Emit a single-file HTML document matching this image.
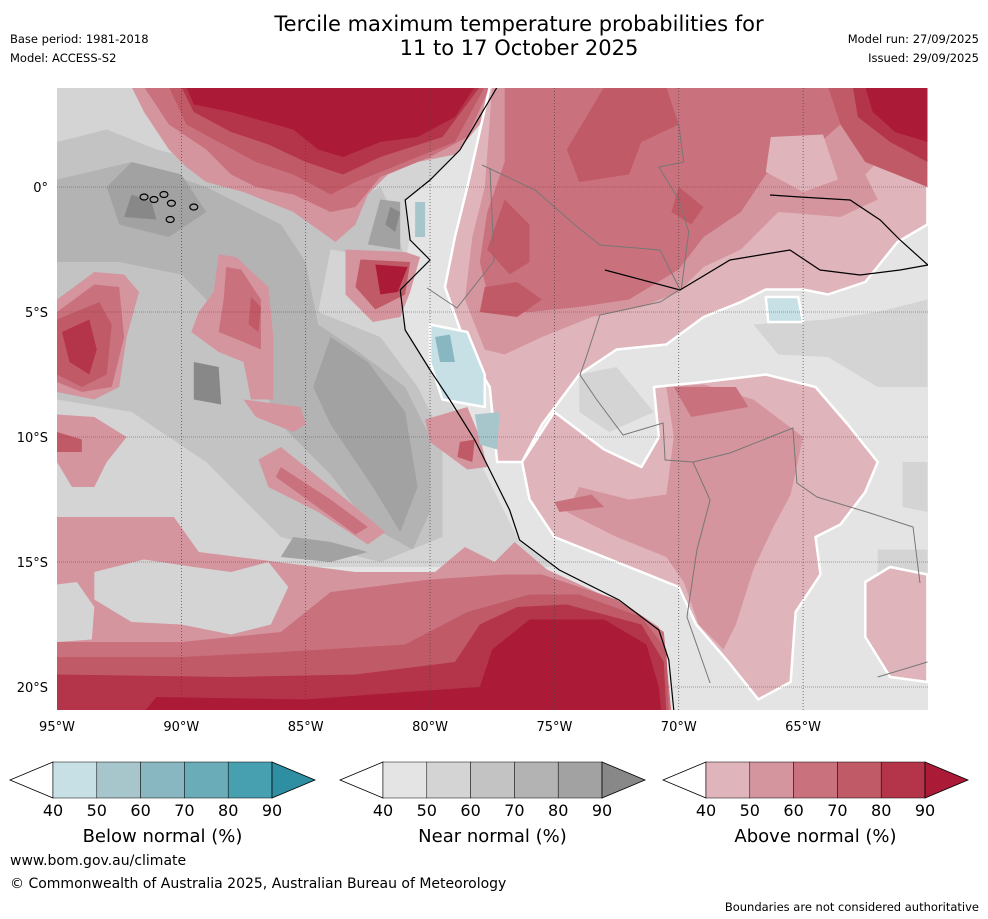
<!DOCTYPE html>
<html><head><meta charset="utf-8">
<style>
html,body{margin:0;padding:0;background:#fff;}
body{width:988px;height:919px;position:relative;overflow:hidden;font-family:"DejaVu Sans","Liberation Sans",sans-serif;}
svg{position:absolute;left:0;top:0;font-family:"DejaVu Sans","Liberation Sans",sans-serif;}
</style></head>
<body>
<svg id="chart" width="988" height="919">
  <text x="519" y="31" font-size="21" text-anchor="middle">Tercile maximum temperature probabilities for</text>
  <text x="519" y="55" font-size="21" text-anchor="middle">11 to 17 October 2025</text>
  <text x="10" y="43" font-size="11.5">Base period: 1981-2018</text>
  <text x="10" y="62" font-size="11.5">Model: ACCESS-S2</text>
  <text x="979" y="43" font-size="11.5" text-anchor="end">Model run: 27/09/2025</text>
  <text x="979" y="62" font-size="11.5" text-anchor="end">Issued: 29/09/2025</text>
  <defs><clipPath id="mapclip"><rect x="57" y="88" width="871" height="622"/></clipPath></defs>
  <g id="map" clip-path="url(#mapclip)"></g>
  <g id="axes"></g>
  <g id="cbars"></g>
  <text x="10" y="865" font-size="14">www.bom.gov.au/climate</text>
  <text x="10" y="888" font-size="14">© Commonwealth of Australia 2025, Australian Bureau of Meteorology</text>
  <text x="979" y="911" font-size="11.5" text-anchor="end">Boundaries are not considered authoritative</text>
</svg>
<script>
const lonTicks=[-95,-90,-85,-80,-75,-70,-65];
const lonLabels=["95°W","90°W","85°W","80°W","75°W","70°W","65°W"];
const latTicks=[0,-5,-10,-15,-20];
const latLabels=["0°","5°S","10°S","15°S","20°S"];
const cbTicks=[40,50,60,70,80,90];
const belowColors=["#c6e0e5","#a6c6cc","#89b7c1","#6aacb8","#47a0b0","#2e8fa3"];
const nearColors=["#e4e4e4","#d4d4d4","#c3c3c3","#b3b3b3","#a2a2a2","#888888"];
const aboveColors=["#e0b4bb","#d5959e","#c9727e","#c15a67","#b43549","#ab1a36"];
const cbTitles=["Below normal (%)","Near normal (%)","Above normal (%)"];
const regions=[
{c:"N",l:1,p:[[-95,4],[-77.3,4],[-78.8,1.5],[-80,0.3],[-81,-0.5],[-80.8,-2],[-81.2,-4],[-81,-5.7],[-80,-7.3],[-79,-9],[-78,-11],[-77,-13],[-76.4,-14.2],[-75,-15.2],[-95,-15.2]]},
{c:"N",l:2,p:[[-95,1.8],[-93,2.3],[-91,1.5],[-89,1],[-86.5,0],[-84,-1],[-83,-0.5],[-82,0],[-81.5,-1],[-81,-3],[-84,-2.5],[-84.5,-5],[-82,-6],[-80.5,-8],[-79.5,-10],[-79.5,-14],[-82,-15],[-86,-14],[-89,-11],[-92,-9],[-95,-8.5]]},
{c:"N",l:3,p:[[-95,0.3],[-92,1],[-89,0],[-86,-1.5],[-85,-3],[-84.5,-5.5],[-83,-6.5],[-81,-8],[-80,-10],[-80,-13],[-80.7,-14.5],[-82.5,-13.5],[-84,-11.5],[-86,-9.5],[-87,-7.5],[-88.5,-5],[-90,-3.5],[-92.5,-3],[-95,-3]]},
{c:"N",l:4,p:[[-92,1],[-90,0.5],[-89,-1],[-90.5,-2],[-92.5,-1.5],[-93,0]]},
{c:"N",l:4,p:[[-84,-6],[-82.5,-7],[-81,-9],[-80.5,-12],[-81.2,-13.8],[-82.3,-12],[-84,-9.5],[-84.7,-8]]},
{c:"N",l:4,p:[[-85.5,-14],[-84,-14.2],[-82.5,-14.6],[-84,-15],[-86,-14.8]]},
{c:"N",l:4,p:[[-82,-0.5],[-81.2,-0.6],[-81.2,-2.5],[-82.5,-2.3]]},
{c:"N",l:5,p:[[-92,-0.3],[-91.2,-0.6],[-91,-1.3],[-92.3,-1.2]]},
{c:"N",l:5,p:[[-89.5,-7],[-88.5,-7.2],[-88.4,-8.7],[-89.5,-8.5]]},
{c:"N",l:5,p:[[-81.6,-0.8],[-81.2,-1],[-81.4,-1.8],[-81.8,-1.5]]},
{c:"A",l:1,p:[[-95,4],[-77.3,4],[-78,2.5],[-79,1.3],[-80.5,1],[-81.7,0.5],[-82.5,-0.3],[-83,-1.5],[-83.8,-2.2],[-85.5,-1],[-87.5,-0.2],[-89,0.2],[-89.8,0.8],[-90.5,1.5],[-91.5,3],[-92,4]]},
{c:"A",l:2,p:[[-91.5,4],[-77.6,4],[-78.5,2],[-80,1.2],[-82,0.4],[-83,-0.8],[-84,-1],[-85.5,-0.3],[-87,0],[-88,0.5],[-89,1.5],[-90.5,2.5]]},
{c:"A",l:3,p:[[-90.5,4],[-77.8,4],[-79,1.8],[-81.5,0.8],[-83,0.2],[-84,-0.3],[-85.5,0.5],[-87,1],[-88.5,1.8],[-89.8,2.5]]},
{c:"A",l:4,p:[[-90,4],[-78,4],[-79.5,2],[-82,1.2],[-83.5,0.5],[-85,1],[-86.5,1.7],[-88,2.2],[-89.5,3]]},
{c:"A",l:5,p:[[-89.8,4],[-78.2,4],[-79,2.8],[-80.5,2],[-82,1.8],[-83.5,1.2],[-84.5,1.5],[-85.5,2.3],[-88,3],[-89.5,3.3]]},
{c:"A",l:1,p:[[-95,-4.5],[-93.5,-3.4],[-92.3,-3.5],[-91.7,-4.2],[-92.2,-6],[-92.5,-8],[-93.5,-8.5],[-95,-8.2]]},
{c:"A",l:2,p:[[-95,-5],[-93.5,-3.9],[-92.5,-4],[-92.3,-6],[-92.8,-8],[-94,-8.2],[-95,-7.8]]},
{c:"A",l:3,p:[[-95,-5.3],[-93.3,-4.6],[-92.8,-5.5],[-93,-7.5],[-94,-8],[-95,-7.5]]},
{c:"A",l:4,p:[[-94.8,-5.8],[-93.7,-5.3],[-93.4,-6.5],[-93.7,-7.5],[-94.5,-7]]},
{c:"A",l:1,p:[[-88.5,-2.7],[-87.8,-2.8],[-86.5,-4],[-86.3,-6],[-86.3,-8.5],[-87.2,-8.5],[-87.5,-7],[-88.5,-6.6],[-89.6,-5.8],[-89.3,-5],[-88.7,-4.2]]},
{c:"A",l:2,p:[[-88.2,-3.2],[-87.6,-3.3],[-86.8,-4.5],[-86.8,-6.5],[-87.5,-6.2],[-88.5,-5.8],[-88.3,-4.5]]},
{c:"A",l:3,p:[[-87.2,-4.4],[-86.8,-4.8],[-86.9,-5.8],[-87.3,-5.5]]},
{c:"A",l:1,p:[[-95,-9.1],[-93.5,-9.2],[-92.2,-10],[-93,-11],[-93.5,-12],[-94.4,-12],[-95,-11]]},
{c:"A",l:3,p:[[-95,-9.8],[-94,-10.1],[-94,-10.6],[-95,-10.6]]},
{c:"A",l:1,p:[[-87.5,-8.5],[-85.2,-8.8],[-85,-9.5],[-85.5,-9.8],[-87,-9.2]]},
{c:"A",l:1,p:[[-86.9,-10.9],[-86,-10.4],[-85.5,-10.8],[-83,-12.8],[-81.8,-13.8],[-82.5,-14.3],[-84.5,-13],[-86.5,-12]]},
{c:"A",l:2,p:[[-86,-11.2],[-84,-12.5],[-82.5,-13.6],[-83,-13.9],[-86.2,-11.6]]},
{c:"A",l:1,p:[[-95,-13.2],[-90.3,-13.2],[-89.3,-14.6],[-83,-15.4],[-79.8,-15.4],[-78.6,-14.4],[-77.4,-15],[-76.6,-14.2],[-75.3,-15.3],[-72,-16.8],[-70.8,-17.6],[-70.3,-21],[-95,-21]]},
{c:"N",l:1,p:[[-93.5,-15.4],[-91.5,-14.9],[-89.5,-15.2],[-88,-15.4],[-86.5,-15],[-85.7,-16],[-86.4,-17.5],[-88,-17.9],[-90,-17.5],[-92,-17.4],[-93.5,-16.5]]},
{c:"N",l:1,p:[[-95,-15.9],[-94.2,-15.8],[-93.5,-16.8],[-93.6,-18.1],[-95,-18.2]]},
{c:"A",l:2,p:[[-95,-18.2],[-90,-18.2],[-86,-17.8],[-84,-16.2],[-80,-15.7],[-77,-15.5],[-75.5,-15.5],[-72.5,-16.5],[-70.6,-17.8],[-70.3,-21],[-95,-21]]},
{c:"A",l:3,p:[[-95,-18.8],[-90,-18.8],[-86,-18.6],[-81,-18.3],[-78.5,-17],[-76,-16.3],[-74,-16.3],[-71.5,-17.2],[-70.5,-18.5],[-70.4,-21],[-95,-21]]},
{c:"A",l:4,p:[[-95,-19.5],[-88,-19.6],[-83,-19.5],[-79,-19],[-78,-17.5],[-76.5,-16.8],[-74.5,-16.7],[-71.5,-17.5],[-70.6,-19],[-70.5,-21],[-95,-21]]},
{c:"A",l:5,p:[[-91,-20.4],[-85,-20.5],[-81,-20.2],[-78,-20],[-77.5,-18.5],[-76,-17.3],[-74.5,-17.3],[-73,-17.3],[-71.3,-18.3],[-70.8,-20],[-70.7,-21],[-91.5,-21]]},
{c:"A",l:1,p:[[-83.4,-2.5],[-81,-2.6],[-80.4,-2.8],[-80.8,-4.2],[-81.2,-5.2],[-82.3,-5.4],[-83.4,-4.3]]},
{c:"A",l:3,p:[[-82.8,-2.9],[-80.8,-3],[-81,-4.3],[-82.2,-4.9],[-83,-4]]},
{c:"A",l:5,p:[[-82.2,-3.1],[-80.9,-3.2],[-81.3,-4.2],[-82,-4.3]]},
{c:"A",l:1,p:[[-80.2,-9.3],[-78.5,-8.8],[-78,-10],[-77.7,-11.2],[-78.5,-11.3],[-80,-10.2]]},
{c:"A",l:3,p:[[-78.8,-10.2],[-78.2,-10.1],[-78.3,-11],[-78.9,-10.8]]},
{c:"A",l:0,p:[[-77.6,4],[-60,4],[-60,-1.5],[-61.2,-2.2],[-62.5,-3.8],[-64,-4.3],[-65,-4.1],[-66.5,-4.1],[-67.5,-4.6],[-69,-5.2],[-70.5,-6.3],[-72.5,-6.5],[-74,-7.5],[-75.5,-9.5],[-76.3,-11],[-77.3,-11],[-77.6,-8],[-78.5,-6.5],[-79.4,-4],[-79,-2],[-78.5,0]]},
{c:"A",l:1,p:[[-77.5,4],[-62,4],[-61,2],[-62.5,0.5],[-62,-0.5],[-63.5,-1.2],[-66,-1],[-67.5,-2.5],[-69,-3.2],[-70,-4.2],[-71.5,-4.8],[-73.5,-5.2],[-75.5,-6],[-77,-6.7],[-77.8,-6.5],[-78.6,-4.5],[-78.3,-2],[-77.8,0]]},
{c:"A",l:2,p:[[-77,4],[-64,4],[-63.5,2.5],[-65,1.2],[-66.5,0.5],[-67.5,-1],[-69,-2],[-70,-3.3],[-72,-4.5],[-74,-4.8],[-76,-5],[-77.5,-5],[-78,-3],[-77.7,-1],[-77,1]]},
{c:"A",l:3,p:[[-73,4],[-70.5,4],[-70,2.5],[-71.5,1.8],[-72,0.5],[-74,0.2],[-74.5,1.5]]},
{c:"A",l:3,p:[[-77,-0.5],[-76,-1.5],[-76,-3],[-76.8,-3.5],[-77.7,-2.5]]},
{c:"A",l:3,p:[[-77.8,-4],[-76.5,-3.8],[-75.5,-4.5],[-76.5,-5.2],[-78,-5]]},
{c:"A",l:3,p:[[-70,0],[-69,-0.8],[-69.5,-1.5],[-70.3,-1]]},
{c:"A",l:3,p:[[-64,4],[-60,4],[-60,0],[-61,0.4],[-62.5,1],[-63.5,2.5]]},
{c:"A",l:4,p:[[-63,4],[-60,4],[-60,1],[-61.5,1.8],[-62.8,2.8]]},
{c:"A",l:5,p:[[-62.5,4],[-60,4],[-60,1.8],[-61.3,2.2],[-62.2,3]]},
{c:"N",l:1,p:[[-67,-5.5],[-64,-5.3],[-62,-5],[-60,-4.5],[-60,-8],[-62,-8],[-64,-6.8],[-66,-6.7]]},
{c:"N",l:1,p:[[-74,-7.5],[-72.5,-7.2],[-71,-9],[-72.8,-9.8],[-74,-9]]},
{c:"N",l:1,p:[[-61,-11],[-60,-11],[-60,-13],[-61,-12.8]]},
{c:"N",l:1,p:[[-62,-14.5],[-60,-14.5],[-60,-16],[-62,-16]]},
{c:"A",l:0,p:[[-71,-8],[-69,-7.8],[-66.5,-7.5],[-64.5,-8],[-63.2,-9.5],[-62,-11],[-62.5,-12.2],[-63.5,-13.5],[-64.5,-14],[-64.3,-15.5],[-65.3,-17],[-65.5,-19.8],[-66.8,-20.5],[-68,-19],[-69.3,-17.5],[-70,-16],[-72.5,-15],[-75,-14],[-76,-12.5],[-76.3,-11],[-75,-9],[-73,-10.5],[-71.5,-11.2],[-70.8,-10]]},
{c:"A",l:1,p:[[-70.5,-8],[-69,-7.9],[-67,-8.5],[-65,-10],[-65.5,-12.3],[-66.2,-13.6],[-67,-15.3],[-67.7,-17.5],[-68.2,-18.5],[-69.2,-17.5],[-69.8,-15.8],[-70.5,-14.8],[-72.5,-14],[-74.5,-13],[-74,-12],[-72,-12.5],[-70.5,-12.3],[-70.2,-10]]},
{c:"A",l:2,p:[[-70.2,-8],[-67.7,-8],[-67.2,-8.8],[-69.5,-9.2]]},
{c:"A",l:2,p:[[-75,-12.6],[-73.5,-12.3],[-73,-12.8],[-74.8,-13]]},
{c:"A",l:0,p:[[-62.5,-15.8],[-61.5,-15.2],[-60,-15.5],[-60,-19.8],[-61.5,-19.6],[-62.5,-18]]},
{c:"B",l:1,p:[[-80.6,-0.6],[-80.2,-0.6],[-80.2,-2],[-80.6,-2]]},
{c:"B",l:0,p:[[-80,-5.5],[-78.5,-5.8],[-77.8,-7.5],[-77.8,-8.8],[-79.5,-8.5],[-80,-7]]},
{c:"B",l:2,p:[[-79.8,-6],[-79.2,-5.9],[-79,-7],[-79.6,-7]]},
{c:"B",l:1,p:[[-78.2,-9.1],[-77.2,-9],[-77.3,-10.5],[-78,-10.3]]},
{c:"B",l:0,p:[[-66.5,-4.4],[-65.2,-4.4],[-65,-5.4],[-66.4,-5.4]]}
];
const paleBlobs=[[[-66.3,2],[-64.2,2.1],[-63.6,0.3],[-65,-0.2],[-66.5,0.6]]];
const coast=[[-77.3,4],[-78.8,1.48],[-80,0.28],[-81,-0.52],[-80.8,-2.12],[-80,-2.92],[-81.2,-4.12],[-81,-5.72],[-80,-7.32],[-79.2,-8.52],[-78.2,-10.12],[-77.6,-11.32],[-76.8,-12.92],[-76.4,-14.12],[-74.8,-15.32],[-72.4,-16.52],[-70.8,-17.72],[-70.4,-18.92],[-70.2,-20.92]];
const river1=[[-66.33,-0.32],[-65.13,-0.4],[-63.11,-0.52],[-61.9,-1.32],[-61.1,-2.12],[-59.98,-3.12]];
const river2=[[-72.97,-3.32],[-69.95,-4.12],[-67.94,-2.92],[-65.53,-2.52],[-64.32,-3.32],[-62.71,-3.52],[-61.1,-3.32],[-59.98,-3.12]];
const borders=[
[[-77.59,0.76],[-77.43,-2.96],[-78.92,-4.84],[-80.12,-4.04]],
[[-77.91,0.88],[-75.78,-0.12],[-74.17,-1.52],[-73.17,-2.32],[-70.75,-2.52],[-69.95,-4.1]],
[[-69.95,-4.1],[-70.75,-4.6],[-73.17,-5.12],[-73.69,-6.72],[-73.97,-7.52],[-73.29,-8.52],[-72.24,-9.92],[-70.63,-9.44],[-70.55,-10.92],[-69.43,-11],[-68.74,-12.52],[-69.27,-14.52],[-69.67,-17.2],[-68.74,-19.84]],
[[-69.43,-11],[-67.94,-10.64],[-65.41,-9.64],[-65.25,-11.84],[-64.44,-12.4],[-62.31,-13.04],[-60.58,-13.6],[-60.3,-15.84]],
[[-70,2.5],[-69.8,1],[-70.8,0.8],[-70,-0.5],[-69.6,-1.8],[-69.9,-4.1]],
[[-62,-19.6],[-60,-19]]
];
const islands=[[-91.1,-0.5],[-90.7,-0.3],[-90.4,-0.65],[-89.5,-0.8],[-90.45,-1.3],[-91.5,-0.4]];
const X=lon=>57+(lon+95)*24.87;
const Y=lat=>187-lat*25;
const NS="http://www.w3.org/2000/svg";
function mk(tag,attrs,parent){const e=document.createElementNS(NS,tag);for(const k in attrs)e.setAttribute(k,attrs[k]);parent.appendChild(e);return e;}
const pal={A:aboveColors,N:nearColors,B:belowColors};
const map=document.getElementById('map');
const bg=mk('rect',{x:57,y:88,width:871,height:622,fill:"#e4e4e4"},map);


regions.forEach((r,i)=>{
  const pg=mk('polygon',{points:r.p.map(q=>X(q[0])+","+Y(q[1])).join(" "),fill:pal[r.c][r.l],stroke:(r.l===0?"#fff":"none"),"stroke-width":2.5,"stroke-linejoin":"round"},map);
  
  
});
paleBlobs.forEach(b=>{
  const pg=mk('polygon',{points:b.map(q=>X(q[0])+","+Y(q[1])).join(" "),fill:aboveColors[0]},map);
  
  
});
function line(pts,col,w,name){
  const pl=mk('polyline',{points:pts.map(q=>X(q[0])+","+Y(q[1])).join(" "),fill:"none",stroke:col,"stroke-width":w},map);
  
  
}
borders.forEach(b=>line(b,"#777",1,'country-border'));
line(coast,"#000",1.2,'coastline');
line(river1,"#000",1.2,'amazon-river');
line(river2,"#000",1.2,'maranon-river');
islands.forEach(p=>{
  const e=mk('ellipse',{cx:X(p[0]),cy:Y(p[1]),rx:4,ry:3,fill:"none",stroke:"#000","stroke-width":1.2},map);
  
  
});
const axes=document.getElementById('axes');
lonTicks.forEach((v,i)=>{
  if(i>0){const g=mk('line',{x1:X(v),x2:X(v),y1:88,y2:710,stroke:"#444","stroke-width":0.7,"stroke-dasharray":"1,2"},axes);
  }
  const t=mk('text',{x:X(v),y:731,"font-size":13,"text-anchor":"middle"},axes);t.textContent=lonLabels[i];
  
  
});
latTicks.forEach((v,i)=>{
  const g=mk('line',{x1:57,x2:928,y1:Y(v),y2:Y(v),stroke:"#555","stroke-width":0.6,"stroke-dasharray":"1,1"},axes);
  
  
  const t=mk('text',{x:48,y:Y(v)+5,"font-size":13,"text-anchor":"end"},axes);t.textContent=latLabels[i];
  
  
});
const cb=document.getElementById('cbars');
[belowColors,nearColors,aboveColors].forEach((cols,k)=>{
  const x0=[53,383,706][k],bw=43.8,y0=762,h=36;
  const g=mk('g',{},cb);
  
  
  mk('polygon',{points:`${x0},${y0} ${x0-43},${y0+h/2} ${x0},${y0+h}`,fill:"#fff",stroke:"#000","stroke-width":0.8},g);
  for(let j=0;j<5;j++)mk('rect',{x:x0+j*bw,y:y0,width:bw,height:h,fill:cols[j],stroke:"#000","stroke-width":0.5},g);
  const xe=x0+5*bw;
  mk('polygon',{points:`${xe},${y0} ${xe+43},${y0+h/2} ${xe},${y0+h}`,fill:cols[5],stroke:"#000","stroke-width":0.8},g);
  cbTicks.forEach((v,j)=>{const t=mk('text',{x:x0+j*bw,y:816,"font-size":16,"text-anchor":"middle"},g);t.textContent=v;
    
    });
  const tt=mk('text',{x:x0+2.5*bw,y:842,"font-size":18,"text-anchor":"middle"},g);tt.textContent=cbTitles[k];
  
  
});
</script>
</body></html>
